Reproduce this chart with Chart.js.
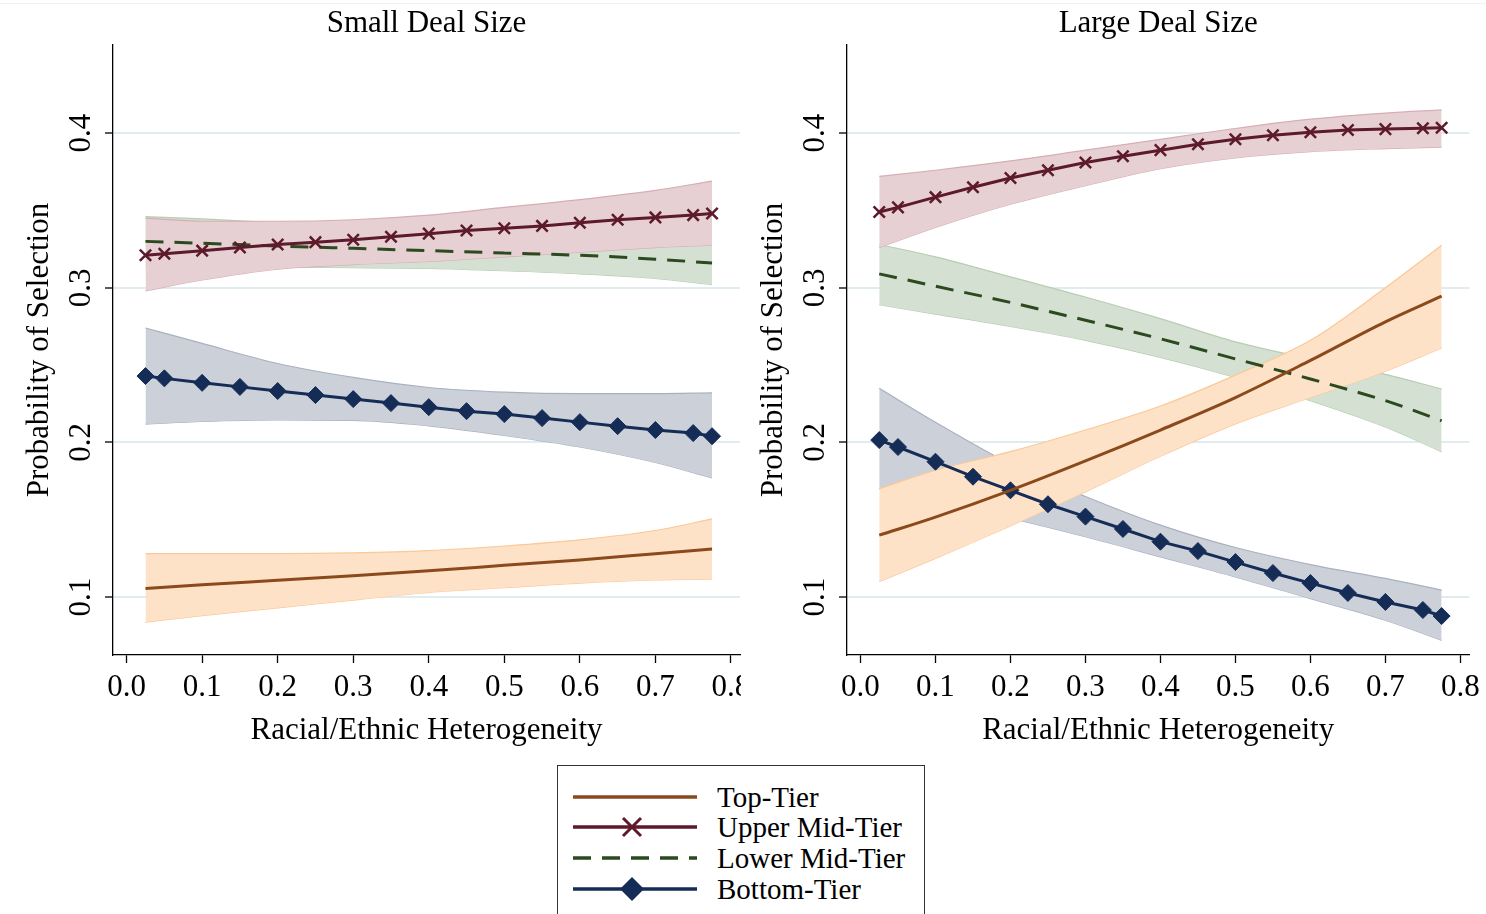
<!DOCTYPE html>
<html>
<head>
<meta charset="utf-8">
<script src="https://cdn.jsdelivr.net/npm/chart.js@4.4.1/dist/chart.umd.min.js"></script>
<style>
  body { margin: 0; background: #fff; width: 1486px; height: 914px; overflow: hidden; position: relative;
         font-family: "Liberation Serif", "Times New Roman", serif; }
  #frame { position: absolute; left: 0; top: 3px; width: 1486px; border-top: 1px solid #f1f1f1; }
  #smallWrap { position: absolute; left: 0; top: 0; width: 741px; height: 760px; overflow: hidden; }
  #small { position: absolute; left: 0; top: 0; }
  #large { position: absolute; left: 734px; top: 0; }
  #legend { position: absolute; left: 557px; top: 765px; width: 366px; height: 170px; border: 1px solid #333; }
  .row { position: absolute; left: 0; width: 366px; height: 30px; }
  .row svg { position: absolute; left: 12px; top: 0; }
  .row span { position: absolute; left: 159px; top: 50%; transform: translateY(-50%); font-size: 29px; line-height: 1; color: #000; white-space: nowrap; }
</style>
</head>
<body>
<div id="frame"></div>
<div id="smallWrap"><canvas id="small" width="760" height="760"></canvas></div>
<canvas id="large" width="752" height="760"></canvas>
<div id="legend"></div>

<script>
// x positions where the model was evaluated
var xMark = [0.025, 0.05, 0.1, 0.15, 0.2, 0.25, 0.3, 0.35, 0.4, 0.45, 0.5, 0.55, 0.6, 0.65, 0.7, 0.75, 0.775];
var xBand = [0.025, 0.1, 0.2, 0.3, 0.4, 0.5, 0.6, 0.7, 0.775];
var xTicks = [0, 0.1, 0.2, 0.3, 0.4, 0.5, 0.6, 0.7, 0.8];
var yTicks = [0.1, 0.2, 0.3, 0.4];
var tiers = ['Top-Tier', 'Upper Mid-Tier', 'Lower Mid-Tier', 'Bottom-Tier'];

// Small deal size
var smallTop = [0.1055, 0.108, 0.1108, 0.1138, 0.117, 0.1205, 0.124, 0.128, 0.131];
var smallTopHi = [0.128, 0.128, 0.128, 0.1285, 0.130, 0.133, 0.137, 0.143, 0.1505];
var smallTopLo = [0.0838, 0.088, 0.093, 0.098, 0.103, 0.106, 0.109, 0.111, 0.1115];
var smallUpperMid = [0.321, 0.322, 0.324, 0.326, 0.328, 0.3295, 0.331, 0.333, 0.335, 0.337, 0.3385, 0.340, 0.342, 0.344, 0.3455, 0.347, 0.348];
var smallUpperMidHi = [0.345, 0.343, 0.343, 0.344, 0.347, 0.352, 0.357, 0.363, 0.369];
var smallUpperMidLo = [0.298, 0.305, 0.312, 0.315, 0.317, 0.320, 0.323, 0.326, 0.3275];
var smallLowerMid = [0.330, 0.3288, 0.327, 0.3255, 0.324, 0.3225, 0.321, 0.3185, 0.316];
var smallLowerMidHi = [0.346, 0.3445, 0.342, 0.340, 0.338, 0.336, 0.334, 0.332, 0.330];
var smallLowerMidLo = [0.314, 0.3138, 0.3135, 0.313, 0.3125, 0.311, 0.309, 0.306, 0.302];
var smallBottom = [0.2429, 0.2414, 0.2385, 0.2359, 0.2332, 0.2306, 0.228, 0.2254, 0.2228, 0.2202, 0.2183, 0.2157, 0.2131, 0.2105, 0.208, 0.206, 0.204];
var smallBottomHi = [0.274, 0.264, 0.251, 0.242, 0.2355, 0.2325, 0.2315, 0.2315, 0.232];
var smallBottomLo = [0.2118, 0.2135, 0.2145, 0.2143, 0.2107, 0.2045, 0.197, 0.187, 0.177];

// Large deal size
var largeTop = [0.140, 0.1517, 0.169, 0.188, 0.208, 0.229, 0.253, 0.278, 0.2946];
var largeTopHi = [0.170, 0.182, 0.194, 0.208, 0.2235, 0.2435, 0.266, 0.300, 0.3275];
var largeTopLo = [0.110, 0.125, 0.146, 0.168, 0.191, 0.212, 0.229, 0.246, 0.261];
var largeUpperMid = [0.349, 0.352, 0.3586, 0.365, 0.371, 0.376, 0.381, 0.385, 0.389, 0.3928, 0.396, 0.3986, 0.4006, 0.402, 0.4026, 0.4032, 0.4035];
var largeUpperMidHi = [0.372, 0.376, 0.382, 0.389, 0.396, 0.403, 0.409, 0.413, 0.415];
var largeUpperMidLo = [0.326, 0.339, 0.354, 0.366, 0.377, 0.384, 0.388, 0.390, 0.391];
var largeLowerMid = [0.309, 0.301, 0.2905, 0.279, 0.267, 0.254, 0.241, 0.227, 0.214];
var largeLowerMidHi = [0.328, 0.320, 0.307, 0.294, 0.280, 0.265, 0.254, 0.244, 0.2345];
var largeLowerMidLo = [0.289, 0.283, 0.275, 0.266, 0.255, 0.242, 0.227, 0.210, 0.194];
var largeBottom = [0.2015, 0.197, 0.1875, 0.1778, 0.169, 0.160, 0.152, 0.144, 0.1358, 0.1297, 0.1226, 0.1155, 0.109, 0.1026, 0.0968, 0.0916, 0.0877];
var largeBottomHi = [0.235, 0.213, 0.186, 0.165, 0.1465, 0.132, 0.121, 0.112, 0.1045];
var largeBottomLo = [0.170, 0.162, 0.151, 0.139, 0.126, 0.113, 0.099, 0.085, 0.072];

var lineColors = ['#8a4a1c', '#5d1a2a', '#2b4a1f', '#152c56'];
var fillColors = ['#fde2c8', '#e6d0d4', '#d4e0d1', '#cbd0d9'];
var edgeColors = ['#fbc897', '#d6aeb4', '#b8cdb3', '#a9b1c0'];

var serif = '"Liberation Serif", "Times New Roman", serif';
Chart.defaults.font.family = serif;
Chart.defaults.font.size = 31;
Chart.defaults.color = '#000';

function pts(xs, ys) {
  return ys.map(function (y, i) { return { x: xs[i], y: y }; });
}

function band(data, tier, target, order) {
  return {
    data: data, borderColor: edgeColors[tier], borderWidth: 1.2, backgroundColor: fillColors[tier],
    pointRadius: 0, fill: target === null ? false : { target: target }, order: order,
    cubicInterpolationMode: 'monotone'
  };
}

// y tick labels are vertical in the original, Chart.js can't rotate y ticks
var verticalYTicks = {
  id: 'verticalYTicks',
  afterDraw: function (chart) {
    var ctx = chart.ctx, sc = chart.scales.y;
    ctx.save();
    ctx.font = '31px ' + serif;
    ctx.fillStyle = '#000';
    ctx.textAlign = 'center';
    ctx.textBaseline = 'middle';
    yTicks.forEach(function (v) {
      ctx.save();
      ctx.translate(sc.right - 31, sc.getPixelForValue(v));
      ctx.rotate(-Math.PI / 2);
      ctx.fillText(v.toFixed(1), 0, 0);
      ctx.restore();
    });
    ctx.restore();
  }
};

function makePanel(id, title, s, padRight) {
  var datasets = [
    { data: pts(xBand, s.top), borderColor: lineColors[0], borderWidth: 3, pointRadius: 0, order: 0, cubicInterpolationMode: 'monotone' },
    { data: pts(xMark, s.upper), borderColor: lineColors[1], borderWidth: 3, pointStyle: 'crossRot', pointRadius: 8,
      pointBorderWidth: 2.5, pointBorderColor: lineColors[1], pointBackgroundColor: lineColors[1], order: 0 },
    { data: pts(xBand, s.lower), borderColor: lineColors[2], borderWidth: 3, borderDash: [18, 11], pointRadius: 0, order: 0, cubicInterpolationMode: 'monotone' },
    { data: pts(xMark, s.bottom), borderColor: lineColors[3], borderWidth: 3, pointStyle: 'rectRot', pointRadius: 8.5,
      pointBorderWidth: 1, pointBorderColor: lineColors[3], pointBackgroundColor: lineColors[3], order: 0 },
    band(pts(xBand, s.topHi), 0, 5, 1),
    band(pts(xBand, s.topLo), 0, null, 1),
    band(pts(xBand, s.upperHi), 1, 7, 2),
    band(pts(xBand, s.upperLo), 1, null, 2),
    band(pts(xBand, s.bottomHi), 3, 9, 3),
    band(pts(xBand, s.bottomLo), 3, null, 3),
    band(pts(xBand, s.lowerHi), 2, 11, 4),
    band(pts(xBand, s.lowerLo), 2, null, 4)
  ];

  return new Chart(document.getElementById(id), {
    type: 'line',
    data: { datasets: datasets },
    options: {
      responsive: false,
      animation: false,
      layout: { padding: { left: 0, top: 0, right: padRight, bottom: 0 } },
      plugins: {
        legend: { display: false },
        tooltip: { enabled: false },
        title: { display: true, text: title, fullSize: false, font: { size: 31, weight: 'normal' }, padding: { top: 5, bottom: 2.8 } }
      },
      scales: {
        x: {
          type: 'linear', min: -0.018, max: 0.812,
          afterBuildTicks: function (sc) { sc.ticks = xTicks.map(function (v) { return { value: v }; }); },
          afterFit: function (sc) { sc.height = 105; },
          ticks: { autoSkip: false, maxRotation: 0, padding: 6, callback: function (v) { return Number(v).toFixed(1); } },
          grid: { drawOnChartArea: false, drawTicks: true, tickLength: 8, color: '#000', tickColor: '#000', tickWidth: 1.3 },
          border: { display: true, color: '#000', width: 1.3 },
          title: { display: true, text: 'Racial/Ethnic Heterogeneity', padding: { top: 0, bottom: 11 } }
        },
        y: {
          type: 'linear', min: 0.0625, max: 0.457,
          afterBuildTicks: function (sc) { sc.ticks = yTicks.map(function (v) { return { value: v }; }); },
          afterFit: function (sc) { sc.width = 113; },
          ticks: { display: false },
          grid: { color: '#e0ecef', lineWidth: 2, drawTicks: true, tickLength: 8, tickColor: '#000', tickWidth: 1.3 },
          border: { display: true, color: '#000', width: 1.3 },
          title: { display: true, text: 'Probability of Selection', padding: { top: 21, bottom: 0 } }
        }
      }
    },
    plugins: [verticalYTicks]
  });
}

// left canvas is wider than its clipping box so the last tick label gets cut like the original
makePanel('small', 'Small Deal Size', {
  top: smallTop, topHi: smallTopHi, topLo: smallTopLo,
  upper: smallUpperMid, upperHi: smallUpperMidHi, upperLo: smallUpperMidLo,
  lower: smallLowerMid, lowerHi: smallLowerMidHi, lowerLo: smallLowerMidLo,
  bottom: smallBottom, bottomHi: smallBottomHi, bottomLo: smallBottomLo
}, 20);

makePanel('large', 'Large Deal Size', {
  top: largeTop, topHi: largeTopHi, topLo: largeTopLo,
  upper: largeUpperMid, upperHi: largeUpperMidHi, upperLo: largeUpperMidLo,
  lower: largeLowerMid, lowerHi: largeLowerMidHi, lowerLo: largeLowerMidLo,
  bottom: largeBottom, bottomHi: largeBottomHi, bottomLo: largeBottomLo
}, 16);

// legend below both panels
var legend = document.getElementById('legend');
var rowTops = [16, 46, 77, 108];
var markers = [
  '',
  '<path d="M53 6 L71 24 M71 6 L53 24" stroke="' + lineColors[1] + '" stroke-width="3"/>',
  '',
  '<path d="M62 3 L74 15 L62 27 L50 15 Z" fill="' + lineColors[3] + '"/>'
];
tiers.forEach(function (name, i) {
  var row = document.createElement('div');
  row.className = 'row';
  row.style.top = rowTops[i] + 'px';
  var dash = i === 2 ? ' stroke-dasharray="18 11"' : '';
  row.innerHTML = '<svg width="128" height="30"><line x1="3" y1="15" x2="127" y2="15" stroke="' + lineColors[i] +
    '" stroke-width="3.5"' + dash + '/>' + markers[i] + '</svg><span>' + name + '</span>';
  legend.appendChild(row);
});
</script>
</body>
</html>
